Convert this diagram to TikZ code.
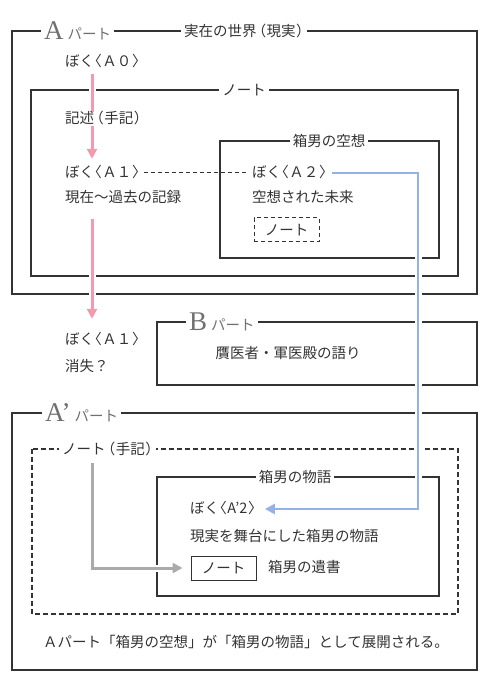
\documentclass[tikz,border=0pt]{standalone}
\usepackage{fontspec}
\setmainfont{Noto Sans CJK JP}
\newfontfamily\jpprop[RawFeature=+palt]{Noto Sans CJK JP}
\newfontfamily\bigserif{Liberation Serif}
\usetikzlibrary{arrows.meta,positioning,calc}

\definecolor{inkgray}{HTML}{333333}
\definecolor{partgray}{HTML}{707070}
\definecolor{pinkline}{HTML}{F59AAE}
\definecolor{blueline}{HTML}{93B3E6}
\definecolor{grayline}{HTML}{AAAAAA}

\tikzset{
  frame/.style={draw=inkgray, line width=1.1pt},
  dframe/.style={frame, dash pattern=on 5pt off 3pt},
  lbl/.style={fill=white, inner sep=3pt, text=inkgray, font=\fontsize{14.5}{14.5}\selectfont},
  txt/.style={anchor=west, inner sep=0pt, text height=11.5pt, text depth=2.5pt,
    text=inkgray, font=\fontsize{14.5}{14.5}\selectfont},
  notebox/.style={frame, line width=1pt, minimum width=65pt, minimum height=24pt,
    inner sep=0pt, text=inkgray, font=\fontsize{14.5}{14.5}\selectfont},
  flow/.style={line width=3pt, -{Triangle[width=10pt,length=10pt]},
    preaction={draw=white, line width=7pt, -}},
}
\newcommand{\partlabel}[1]{{\bigserif\fontsize{27}{27}\selectfont\color{partgray}#1}\kern4pt{\color{partgray}パート}}
\newcommand{\lbr}{{\jpprop 〈}\kern1pt}
\newcommand{\rbr}{\kern1pt{\jpprop 〉}}
\newcommand{\lpar}{\kern2pt{\jpprop （}\kern1pt}
\newcommand{\rpar}{\kern1pt{\jpprop ）}}

\begin{document}
\begin{tikzpicture}[x=1pt,y=-1pt]
  \useasboundingbox (0,0) rectangle (490,700);
  \coordinate (pk) at (92,0);
  \coordinate (bx) at (418,0);

  % A part
  \draw[frame] (12,31) rectangle (477,294);
  \node[lbl, anchor=west] (alabel) at (41,31) {\partlabel{A}};
  \node[lbl] (world) at (244,31) {実在の世界\lpar 現実\rpar};
  \node[txt] (a0) at (65,62) {ぼく\lbr Ａ０\rbr};

  \draw[frame] (31,90) rectangle (458,276);
  \node[lbl] (note1) at (244,90) {ノート};
  \node[txt] (a1) at (65,173) {ぼく\lbr Ａ１\rbr};
  \node[txt] (rec) at (65,198) {現在〜過去の記録};

  \draw[frame] (220,141) rectangle (439,258);
  \node[lbl] (fancy) at (329,141) {箱男の空想};
  \node[txt] (a2) at (252,173) {ぼく\lbr Ａ２\rbr};
  \node[txt] (future) at (252,198) {空想された未来};
  \node[notebox, dash pattern=on 4pt off 3pt] (note2) at (286.5,230) {ノート};

  \draw[inkgray, line width=1pt, dash pattern=on 4pt off 3pt] (a1.east) ++(4pt,0) -- ($(a2.west)+(-4pt,0)$);

  % B part
  \draw[frame] (157,322) rectangle (477,385);
  \node[lbl, anchor=west] (blabel) at (186,322) {\partlabel{B}};
  \node[txt, anchor=center] (doctor) at (288,354) {贋医者・軍医殿の語り};

  \node[txt] (a1b) at (65,340) {ぼく\lbr Ａ１\rbr};
  \node[txt] (lost) at (65,367) {消失？};

  % A' part
  \draw[frame] (12,413) rectangle (477,670);
  \node[lbl, anchor=west] (aplabel) at (42,413) {\partlabel{A’}};

  \draw[dframe] (32,449) rectangle (458,614);
  \node[lbl, anchor=west] (note3) at (59,449) {ノート\lpar 手記\rpar};

  \draw[frame] (157,477) rectangle (439,596);
  \node[lbl] (story) at (295,477) {箱男の物語};
  \node[txt] (a2p) at (190,509) {ぼく\lbr A'2\rbr};
  \node[txt] (stage) at (190,537) {現実を舞台にした箱男の物語};
  \node[notebox] (note4) at (223.5,568) {ノート};
  \node[txt] (will) at (268,568) {箱男の遺書};

  \node[txt, anchor=center] (summary) at (246,643) {Ａパート「箱男の空想」が「箱男の物語」として展開される。};

  % flows
  \draw[flow, pinkline, shorten <=5pt, shorten >=7pt] (a0.south -| pk) -- (a1.north -| pk);
  \draw[flow, pinkline, shorten <=14pt, shorten >=14pt] (rec.south -| pk) -- (a1b.north -| pk);
  \draw[flow, blueline, line width=2.5pt, shorten >=9pt] ($(a2.east)+(5pt,0)$) -| (bx |- a2p) -- (a2p.east);
  \draw[flow, grayline, shorten <=4pt, shorten >=8pt] (note3.south -| pk) |- (note4.west);

  \node[txt, fill=white, inner xsep=1pt] (write) at (64,119) {記述\lpar 手記\rpar};
\end{tikzpicture}
\end{document}
